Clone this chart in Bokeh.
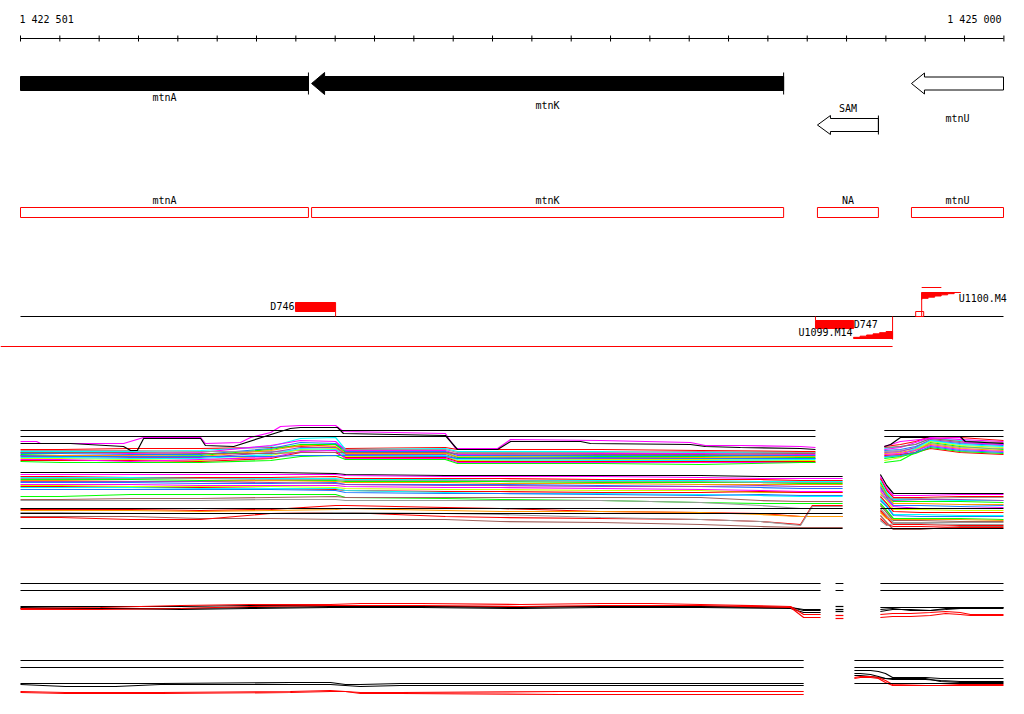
from bokeh.plotting import figure
from bokeh.models import Range1d
from bokeh.embed import file_html
from bokeh.resources import INLINE
from bokeh.core.properties import value

# ======================= DATA =======================
VIEW_START, VIEW_END = 1422501, 1425000
ruler_labels = ["1 422 501", "1 425 000"]
tick_step = 100

gene_names = ["mtnA", "mtnK", "SAM", "mtnU"]
gene_left = [1422380, 1423241, 1424527, 1424766]
gene_right = [1423233, 1424441, 1424682, 1425090]
gene_strand = ["-", "-", "-", "-"]
gene_highlight = [True, True, False, False]

tu_names = ["mtnA", "mtnK", "NA", "mtnU"]
tu_left = [1422380, 1423241, 1424527, 1424766]
tu_right = [1423233, 1424441, 1424682, 1425090]

site_names = ["D746", "D747"]
site_left = [1423200, 1424522]
site_right = [1423302, 1424619]
site_strand = ["+", "-"]

prom_names = ["U1099.M14", "U1100.M4"]
prom_pos = [1424718, 1424792]
prom_strand = ["-", "+"]
prom_tx_end = [1422380, 1424842]

# ---- signal track "plus" (upper block) ----
plus_left_pos = [1422501, 1422603, 1422781, 1422959, 1423137, 1423213, 1423302,
                 1423327, 1423581, 1423612, 1423976, 1424230, 1424484, 1424522]
plus_left_vals = [
    [51, 51, 52, 52, 53, 54, 56, 52, 53, 51, 51, 50, 49, 49],
    [49, 49, 49, 50, 54, 62, 63, 51, 52, 49, 49, 48, 48, 48],
    [48, 48, 47, 48, 55, 60, 59, 50, 50, 46, 47, 47, 46, 46],
    [47, 47, 46, 46, 52, 58, 57, 49, 49, 45, 45, 45, 45, 45],
    [46, 45, 44, 45, 51, 56, 56, 48, 48, 43, 44, 44, 43, 43],
    [50, 50, 50, 49, 49, 50, 50, 51, 51, 48, 48, 49, 48, 48],
    [45, 45, 45, 44, 50, 55, 54, 47, 47, 44, 43, 43, 44, 44],
    [44, 44, 43, 43, 48, 53, 53, 46, 46, 42, 42, 42, 42, 42],
    [42, 42, 41, 40, 45, 51, 52, 44, 44, 40, 41, 41, 40, 40],
    [43, 43, 42, 42, 46, 52, 51, 45, 45, 41, 40, 40, 41, 41],
    [40, 40, 40, 39, 42, 48, 48, 43, 43, 39, 39, 39, 39, 39],
    [41, 41, 39, 41, 43, 49, 50, 42, 42, 38, 38, 38, 38, 38],
    [39, 38, 38, 38, 40, 44, 45, 41, 41, 37, 37, 36, 38, 38],
    [48, 48, 48, 47, 47, 48, 48, 48, 48, 47, 46, 46, 47, 47],
    [45, 44, 44, 44, 44, 45, 45, 45, 44, 42, 43, 42, 42, 42],
]
plus_right_pos = [1424697, 1424738, 1424776, 1424814, 1424890, 1425000]
plus_right_vals = [
    [54, 56, 59, 64, 63, 60],
    [52, 54, 56, 62, 60, 57],
    [51, 53, 58, 63, 61, 59],
    [50, 51, 54, 60, 57, 55],
    [38, 40, 48, 58, 54, 51],
    [49, 50, 52, 57, 53, 52],
    [47, 48, 51, 56, 52, 50],
    [48, 49, 53, 61, 58, 56],
    [40, 43, 50, 59, 55, 53],
    [43, 45, 52, 60, 56, 54],
    [45, 46, 48, 52, 48, 46],
    [46, 47, 50, 55, 51, 49],
    [42, 44, 47, 53, 49, 47],
    [53, 54, 56, 62, 59, 58],
    [44, 45, 48, 54, 50, 48],
]
plus_black_pos = [1422501, 1422628, 1422763, 1422781, 1422798, 1422814, 1422959, 1422971,
                  1423043, 1423154, 1423187, 1423213, 1423307, 1423322, 1423581, 1423612,
                  1423714, 1423747, 1423925, 1423950, 1424204, 1424242, 1424331, 1424484, 1424522]
plus_black = [57, 57, 54, 50, 50, 62, 62, 55, 54, 68, 72, 73, 73, 67, 65, 51,
              51, 59, 59, 57, 56, 54, 53, 52, 51]
plus_mag_pos = [1422501, 1422542, 1422552, 1422763, 1422814, 1422959, 1422971, 1423060,
                1423086, 1423137, 1423162, 1423213, 1423302, 1423322, 1423581, 1423607,
                1423714, 1423747, 1423976, 1424204, 1424242, 1424331, 1424484, 1424522]
plus_mag = [59, 59, 57, 57, 63, 63, 57, 58, 63, 68, 74, 75, 75, 69, 67, 52,
            52, 61, 60, 58, 55, 55, 54, 53]
plus_rblack_pos = [1424697, 1424713, 1424738, 1424802, 1424814, 1424890, 1424903, 1425000]
plus_rblack = [54, 56, 63, 63, 64, 64, 59, 57]
plus_rmag_pos = [1424697, 1424738, 1424814, 1424890, 1424903, 1425000]
plus_rmag = [54, 59, 62, 63, 58, 56]
plus_refs = [70, 64]

# ---- signal track "minus" ----
minus_left_pos = [1422501, 1422603, 1422781, 1422959, 1423137, 1423302, 1423327, 1423581,
                  1423721, 1423976, 1424230, 1424382, 1424484, 1424514, 1424591]
minus_left_vals = [
    [88, 88, 88, 88, 88, 87, 86, 85, 85, 85, 85, 84, 84, 84, 84],
    [86, 86, 86, 86, 86, 86, 85, 84, 84, 84, 83, 82, 82, 82, 82],
    [84, 84, 83, 83, 83, 84, 82, 82, 82, 81, 81, 81, 80, 80, 80],
    [83, 83, 83, 82, 82, 82, 81, 81, 80, 80, 80, 79, 79, 79, 79],
    [81, 81, 81, 80, 80, 80, 79, 79, 79, 78, 78, 78, 77, 77, 77],
    [80, 80, 79, 79, 80, 79, 78, 78, 77, 77, 76, 76, 76, 76, 76],
    [78, 78, 78, 77, 77, 78, 76, 76, 76, 75, 74, 73, 72, 72, 72],
    [79, 79, 79, 79, 78, 77, 76, 75, 75, 74, 74, 75, 74, 74, 74],
    [76, 76, 76, 75, 75, 75, 74, 73, 73, 72, 71, 70, 69, 69, 69],
    [75, 75, 74, 74, 74, 73, 72, 71, 71, 70, 70, 68, 68, 68, 68],
    [82, 82, 82, 82, 81, 81, 80, 80, 80, 79, 79, 78, 78, 78, 78],
    [74, 74, 73, 73, 72, 71, 70, 69, 69, 68, 68, 69, 68, 68, 68],
    [73, 73, 73, 72, 72, 72, 70, 68, 67, 67, 66, 65, 64, 64, 64],
    [71, 71, 71, 71, 71, 70, 68, 67, 67, 66, 65, 66, 65, 65, 65],
    [64, 64, 66, 66, 66, 66, 63, 62, 61, 60, 58, 57, 57, 57, 57],
    [61, 61, 62, 62, 63, 64, 63, 63, 63, 63, 63, 60, 59, 59, 59],
    [60, 60, 60, 60, 61, 61, 60, 60, 60, 60, 58, 55, 52, 52, 52],
    [51, 51, 51, 50, 51, 55, 55, 53, 52, 49, 48, 47, 44, 44, 44],
    [50, 50, 50, 49, 50, 51, 52, 50, 49, 49, 48, 46, 44, 44, 44],
    [44, 44, 44, 42, 42, 41, 41, 41, 39, 38, 36, 34, 33, 33, 33],
    [43, 43, 41, 41, 47, 48, 48, 44, 43, 42, 41, 39, 36, 55, 55],
    [48, 48, 47, 47, 47, 48, 48, 47, 46, 43, 41, 39, 35, 54, 54],
]
minus_right_pos = [1424687, 1424703, 1424720, 1424789, 1424890, 1425000]
minus_right_vals = [
    [86, 75, 67, 67, 67, 67], [84, 72, 65, 65, 66, 66], [82, 70, 63, 63, 64, 64],
    [80, 68, 61, 61, 60, 60], [78, 66, 59, 59, 59, 58], [76, 65, 57, 57, 56, 56],
    [74, 63, 55, 55, 54, 55], [72, 64, 60, 61, 61, 60], [70, 61, 54, 52, 52, 53],
    [68, 60, 51, 51, 50, 50], [66, 61, 62, 62, 63, 63], [64, 57, 49, 48, 48, 48],
    [62, 55, 46, 46, 45, 45], [60, 54, 45, 44, 44, 44], [57, 50, 42, 42, 42, 41],
    [55, 48, 40, 40, 39, 39], [52, 45, 38, 38, 38, 38], [50, 43, 36, 36, 35, 35],
    [48, 42, 41, 41, 41, 40], [45, 38, 31, 31, 34, 34], [42, 36, 34, 34, 33, 33],
    [40, 35, 37, 37, 36, 36],
]
minus_refs_left = [52, 47, 32]
minus_refs_right = [52, 32]

# ---- track C ----
c_left_pos = [1422501, 1422704, 1422908, 1423086, 1423289, 1423365, 1423518,
              1423772, 1423976, 1424103, 1424230, 1424459, 1424492, 1424535]
c_left_vals = [
    [34, 34, 34, 35, 35, 35, 34, 34, 34, 34, 34, 33, 31, 31],
    [32, 32, 31, 32, 33, 33, 33, 32, 33, 33, 33, 32, 28, 28],
    [33, 32, 32, 33, 34, 34, 34, 33, 34, 34, 34, 33, 30, 30],
    [32, 33, 35, 36, 36, 37, 37, 36, 37, 37, 36, 34, 26, 26],
    [31, 31, 32, 34, 35, 35, 35, 34, 35, 35, 35, 33, 23, 23],
]
c_mid_pos = [1424573, 1424593]
c_mid_vals = [[34, 34], [29, 29], [31, 31], [25, 25], [22, 22]]
c_right_pos = [1424687, 1424718, 1424764, 1424814, 1424853, 1424890, 1424916, 1425000]
c_right_vals = [
    [33, 33, 33, 33, 33, 33, 33, 33],
    [29, 31, 31, 30, 31, 32, 32, 32],
    [31, 32, 30, 30, 32, 32, 33, 33],
    [26, 27, 27, 28, 29, 28, 26, 26],
    [23, 24, 24, 25, 27, 26, 25, 25],
]
c_refs = [57, 50]

# ---- track D ----
d_left_pos = [1422501, 1422615, 1422743, 1422857, 1423187, 1423289, 1423327,
              1423365, 1423467, 1423874, 1424492]
d_left_vals = [
    [37, 37, 37, 37, 38, 38, 36, 36, 37, 37, 37],
    [36, 34, 34, 36, 36, 36, 35, 34, 35, 35, 35],
    [29, 28, 28, 28, 29, 30, 29, 28, 28, 29, 29],
    [28, 27, 27, 27, 28, 29, 29, 27, 27, 26, 26],
]
d_right_pos = [1424621, 1424636, 1424662, 1424682, 1424700, 1424718,
               1424802, 1424840, 1424890, 1425000]
d_right_vals = [
    [50, 50, 50, 49, 47, 43, 43, 42, 42, 42],
    [47, 47, 46, 44, 42, 41, 41, 40, 39, 39],
    [45, 45, 44, 43, 42, 42, 42, 39, 38, 38],
    [43, 44, 44, 43, 40, 36, 35, 35, 35, 35],
    [42, 43, 43, 42, 38, 35, 35, 35, 36, 36],
]
d_refs_left = [60, 53]
d_refs_right = [60, 53, 37]

# ======================= STYLE / LAYOUT =======================
RED, CYAN, MAG, BLUE, LIME = "#ff0000", "#00ffff", "#ff00ff", "#1e78ff", "#00ff00"
GRAY, ORANGE, PURPLE, YG, BROWN, BLACK = "#9a9a9a", "#ff9900", "#a040c0", "#ccff00", "#a0605a", "#000000"
plus_colors = [RED, CYAN, MAG, BLUE, LIME, GRAY, ORANGE, PURPLE, YG, CYAN, RED, MAG, LIME, BROWN, BLUE]
minus_colors = [BLACK, MAG, RED, CYAN, LIME, ORANGE, BLUE, PURPLE, MAG, YG, GRAY, RED, CYAN,
                BLUE, LIME, BROWN, GRAY, RED, ORANGE, BROWN, RED, GRAY]
c_colors = [BLACK, BLACK, BLACK, RED, RED]
d_left_colors = [BLACK, BLACK, RED, RED]
d_right_colors = [BLACK, BLACK, BLACK, RED, RED]

FONT = value("DejaVu Sans Mono")
FS = "10px"
W, H_FIG = 1024, 714
BP = (VIEW_END - VIEW_START) / 983.0
X0 = VIEW_START - 20 * BP
X1 = X0 + W * BP
TRACK_BASE = {"plus": 500, "minus": 560, "c": 640, "d": 720}
LW = 1.2

gene_row_y = [83, 83, 124.5, 83]
gene_body_half = [7, 7, 6.5, 6.5]
gene_head_half = [11, 11, 9.5, 10.5]
gene_label_y = [97, 105, 108, 118]
HEAD = 13 * BP

p = figure(width=W, height=H_FIG, x_range=Range1d(X0, X1), y_range=Range1d(H_FIG, 0),
           output_backend="svg", toolbar_location=None, x_axis_location=None,
           y_axis_location=None, min_border=0, outline_line_color=None,
           background_fill_color="white", border_fill_color="white")
p.grid.visible = False
p.extra_y_ranges = {k: Range1d(b - H_FIG, b) for k, b in TRACK_BASE.items()}


def clip(a):
    return min(max(a, VIEW_START), VIEW_END)


def txt(x, y, s, align="center", xoff=0, color="black"):
    p.text(x=[x], y=[y], text=[s], text_font=FONT, text_font_size=FS, text_align=align,
           text_baseline="middle", text_color=color, x_offset=xoff)


# ---- ruler ----
ticks = list(range(VIEW_START, VIEW_END + 2, tick_step))
p.line([VIEW_START, VIEW_END], [38, 38], line_color="black", line_width=1)
p.segment(x0=ticks, y0=[35] * len(ticks), x1=ticks, y1=[41] * len(ticks), line_color="black")
txt(VIEW_START, 19, ruler_labels[0], align="left", xoff=-1)
txt(VIEW_END, 19, ruler_labels[1], align="right", xoff=-2)

# ---- genes ----
for i, name in enumerate(gene_names):
    L, R = gene_left[i], gene_right[i]
    yc, bh, hh = gene_row_y[i], gene_body_half[i], gene_head_half[i]
    r = clip(R)
    if L < VIEW_START:
        xs = [VIEW_START, r, r, VIEW_START]
        ys = [yc - bh, yc - bh, yc + bh, yc + bh]
    else:
        hx = L + HEAD
        xs = [L, hx, hx, r, r, hx, hx]
        ys = [yc, yc - hh, yc - bh, yc - bh, yc + bh, yc + bh, yc + hh]
    fill = "black" if gene_highlight[i] else "white"
    p.patch(xs, ys, fill_color=fill, line_color="black", line_width=1)
    if R <= VIEW_END:
        p.line([R, R], [yc - hh, yc + hh], line_color="black", line_width=1)
    cx = (clip(L) + r) / 2
    txt(cx, gene_label_y[i], name)

# ---- transcription units ----
tl = [clip(v) for v in tu_left]
tr = [clip(v) for v in tu_right]
p.quad(left=tl, right=tr, top=[207] * 4, bottom=[217] * 4, fill_color="white",
       line_color=RED, line_width=1)
for i, name in enumerate(tu_names):
    txt((tl[i] + tr[i]) / 2, 200, name)

# ---- features ----
p.line([VIEW_START, VIEW_END], [316, 316], line_color="black", line_width=1)
for i, name in enumerate(site_names):
    L, R = site_left[i], site_right[i]
    if site_strand[i] == "+":
        p.quad(left=[L], right=[R], top=[302], bottom=[311], fill_color=RED, line_color=RED)
        p.line([R, R], [311, 316], line_color=RED)
        txt(L, 306, name, align="right", xoff=-1)
    else:
        p.quad(left=[L], right=[R], top=[320], bottom=[328], fill_color=RED, line_color=RED)
        p.line([L, L], [316, 320], line_color=RED)
        txt(R, 324, name, align="left")

RAMP = 39 * BP
NSTEP = 6
for i, name in enumerate(prom_names):
    pos = prom_pos[i]
    if prom_strand[i] == "-":
        left, base, H = pos - RAMP, 338, 7
        xs, ys = [left, pos, pos], [base, base, base - H]
        for k in range(1, NSTEP + 1):
            x = pos - k * RAMP / NSTEP
            xs += [x, x]
            ys += [base - H * (NSTEP - k + 1) / NSTEP, base - H * (NSTEP - k) / NSTEP]
        p.patch(xs, ys, fill_color=RED, line_color=RED)
        p.line([pos, pos], [316, 339], line_color=RED)
        p.line([max(prom_tx_end[i], X0), pos], [346, 346], line_color=RED)
        txt(left, 332, name, align="right", xoff=-1)
    else:
        end, top, H = pos + RAMP, 292, 7
        xs, ys = [pos, end], [top, top]
        for k in range(1, NSTEP + 1):
            x = end - k * RAMP / NSTEP
            xs += [x, x]
            ys += [top + H * (k - 1) / NSTEP, top + H * k / NSTEP]
        p.patch(xs, ys, fill_color=RED, line_color=RED)
        p.line([pos, pos], [292, 316], line_color=RED)
        p.line([pos, prom_tx_end[i]], [287, 287], line_color=RED)
        p.quad(left=[pos - 6 * BP], right=[pos + 2 * BP], top=[311], bottom=[316],
               fill_color=None, line_color=RED)
        txt(end, 298, name, align="left", xoff=-2)


# ---- signal tracks ----
def series(pos, vals_list, colors, rng):
    for vals, col in zip(vals_list, colors):
        p.line(pos, vals, line_color=col, line_width=LW, y_range_name=rng)


def refs(levels, a, b, rng):
    for lv in levels:
        p.line([a, b], [lv, lv], line_color="black", line_width=1, y_range_name=rng)


series(plus_left_pos, plus_left_vals, plus_colors, "plus")
series(plus_right_pos, plus_right_vals, plus_colors, "plus")
p.line(plus_mag_pos, plus_mag, line_color=MAG, line_width=LW, y_range_name="plus")
p.line(plus_black_pos, plus_black, line_color=BLACK, line_width=LW, y_range_name="plus")
p.line(plus_rmag_pos, plus_rmag, line_color=MAG, line_width=LW, y_range_name="plus")
p.line(plus_rblack_pos, plus_rblack, line_color=BLACK, line_width=LW, y_range_name="plus")
refs(plus_refs, plus_left_pos[0], plus_left_pos[-1], "plus")
refs(plus_refs, plus_right_pos[0], plus_right_pos[-1], "plus")

series(minus_left_pos, minus_left_vals, minus_colors, "minus")
series(minus_right_pos, minus_right_vals, minus_colors, "minus")
refs(minus_refs_left, minus_left_pos[0], minus_left_pos[-1], "minus")
refs(minus_refs_right, minus_right_pos[0], minus_right_pos[-1], "minus")

series(c_left_pos, c_left_vals, c_colors, "c")
series(c_mid_pos, c_mid_vals, c_colors, "c")
series(c_right_pos, c_right_vals, c_colors, "c")
for seg in (c_left_pos, c_mid_pos, c_right_pos):
    refs(c_refs, seg[0], seg[-1], "c")

series(d_left_pos, d_left_vals, d_left_colors, "d")
series(d_right_pos, d_right_vals, d_right_colors, "d")
refs(d_refs_left, d_left_pos[0], d_left_pos[-1], "d")
refs(d_refs_right, d_right_pos[0], d_right_pos[-1], "d")

open("out.html", "w").write(file_html(p, INLINE))
